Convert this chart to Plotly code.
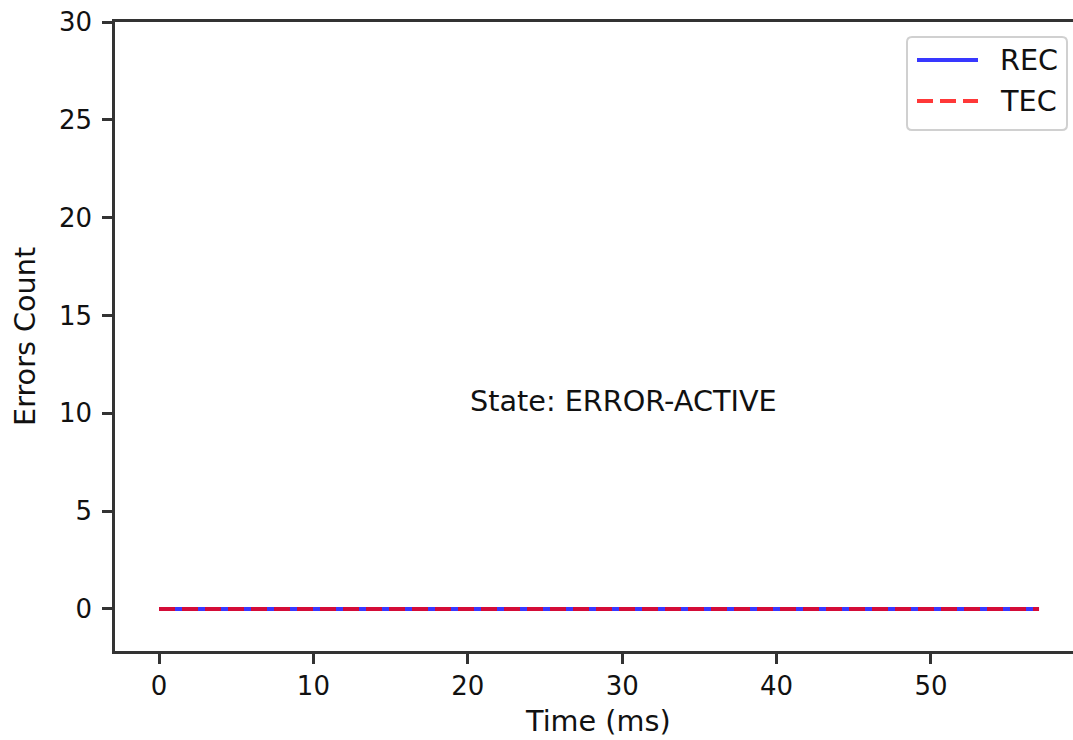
import plotly.graph_objects as go

# Error counters sampled every millisecond
TIME_MS = [0, 1, 2, 3, 4, 5, 6, 7, 8, 9, 10, 11, 12, 13, 14, 15, 16, 17, 18, 19,
           20, 21, 22, 23, 24, 25, 26, 27, 28, 29, 30, 31, 32, 33, 34, 35, 36, 37, 38, 39,
           40, 41, 42, 43, 44, 45, 46, 47, 48, 49, 50, 51, 52, 53, 54, 55, 56, 57]
REC = [0, 0, 0, 0, 0, 0, 0, 0, 0, 0, 0, 0, 0, 0, 0, 0, 0, 0, 0, 0,
       0, 0, 0, 0, 0, 0, 0, 0, 0, 0, 0, 0, 0, 0, 0, 0, 0, 0, 0, 0,
       0, 0, 0, 0, 0, 0, 0, 0, 0, 0, 0, 0, 0, 0, 0, 0, 0, 0]
TEC = [0, 0, 0, 0, 0, 0, 0, 0, 0, 0, 0, 0, 0, 0, 0, 0, 0, 0, 0, 0,
       0, 0, 0, 0, 0, 0, 0, 0, 0, 0, 0, 0, 0, 0, 0, 0, 0, 0, 0, 0,
       0, 0, 0, 0, 0, 0, 0, 0, 0, 0, 0, 0, 0, 0, 0, 0, 0, 0]
X_TICKS = [0, 10, 20, 30, 40, 50]
Y_TICKS = [0, 5, 10, 15, 20, 25, 30]
STATE_LABEL = "State: ERROR-ACTIVE"
STATE_POS = (20, 10)
SERIES_NAMES = ["REC", "TEC"]
X_TITLE = "Time (ms)"
Y_TITLE = "Errors Count"

W, H = 1073, 740
L, T, B = 115, 22, 89
PW, PH = W - L, H - T - B
FONT = "DejaVu Sans"
TICK_FS = 26
TEXT_FS = 28.7
INK = "#111111"
BLUE = "rgba(0,0,255,0.78)"
RED = "rgba(255,0,0,0.78)"
SPINE = "#333333"


def px_x(p):
    return (p - L) / PW


def px_y(p):
    return (H - B - p) / PH


fig = go.Figure()
fig.add_trace(go.Scatter(x=TIME_MS, y=REC, mode="lines", name=SERIES_NAMES[0],
                         line=dict(color=BLUE, width=4)))
fig.add_trace(go.Scatter(x=TIME_MS, y=TEC, mode="lines", name=SERIES_NAMES[1],
                         line=dict(color=RED, width=4, dash="16px,7px")))

fig.add_annotation(x=STATE_POS[0], y=STATE_POS[1], text=STATE_LABEL, showarrow=False,
                   xanchor="left", yanchor="bottom", yshift=-7,
                   font=dict(family=FONT, size=TEXT_FS, color=INK))

# Axis titles
fig.add_annotation(xref="paper", yref="paper", x=px_x(598), y=px_y(721), text=X_TITLE,
                   showarrow=False, xanchor="center", yanchor="middle",
                   font=dict(family=FONT, size=TEXT_FS, color=INK))
fig.add_annotation(xref="paper", yref="paper", x=px_x(25), y=px_y(337), text=Y_TITLE,
                   showarrow=False, xanchor="center", yanchor="middle", textangle=-90,
                   font=dict(family=FONT, size=TEXT_FS, color=INK))

# Boxed legend drawn in the upper-right corner
x0, x1, y0, y1, r = 907, 1067, 37, 130, 5
path = (f"M {px_x(x0 + r)} {px_y(y0)} L {px_x(x1 - r)} {px_y(y0)} "
        f"Q {px_x(x1)} {px_y(y0)} {px_x(x1)} {px_y(y0 + r)} "
        f"L {px_x(x1)} {px_y(y1 - r)} Q {px_x(x1)} {px_y(y1)} {px_x(x1 - r)} {px_y(y1)} "
        f"L {px_x(x0 + r)} {px_y(y1)} Q {px_x(x0)} {px_y(y1)} {px_x(x0)} {px_y(y1 - r)} "
        f"L {px_x(x0)} {px_y(y0 + r)} Q {px_x(x0)} {px_y(y0)} {px_x(x0 + r)} {px_y(y0)} Z")
fig.add_shape(type="path", path=path, xref="paper", yref="paper",
              line=dict(color="#d0d0d0", width=2), fillcolor="rgba(255,255,255,0.85)")
for name, color, dash, ly in [(SERIES_NAMES[0], BLUE, "solid", 60),
                              (SERIES_NAMES[1], RED, "16px,7px", 101)]:
    fig.add_shape(type="line", xref="paper", yref="paper",
                  x0=px_x(917), x1=px_x(978), y0=px_y(ly), y1=px_y(ly),
                  line=dict(color=color, width=4, dash=dash))
    fig.add_annotation(xref="paper", yref="paper", x=px_x(998), y=px_y(ly), text=name,
                       showarrow=False, xanchor="left", yanchor="middle",
                       font=dict(family=FONT, size=TEXT_FS, color=INK))

axis_common = dict(showgrid=False, zeroline=False, showline=True, linecolor=SPINE,
                   linewidth=2.5, ticks="outside", ticklen=10, tickwidth=2.5,
                   tickcolor=SPINE, tickfont=dict(family=FONT, size=TICK_FS, color=INK))

fig.update_layout(
    width=W, height=H,
    margin=dict(l=L, r=0, t=T, b=B),
    paper_bgcolor="white", plot_bgcolor="white",
    showlegend=False,
    xaxis=dict(range=[-2.85, 59.2], tickvals=X_TICKS, mirror=True,
               ticklabelstandoff=0, **axis_common),
    yaxis=dict(range=[-2.15, 30], tickvals=Y_TICKS, mirror=False,
               ticklabelstandoff=5, **axis_common),
)

fig.write_html("out.html")
